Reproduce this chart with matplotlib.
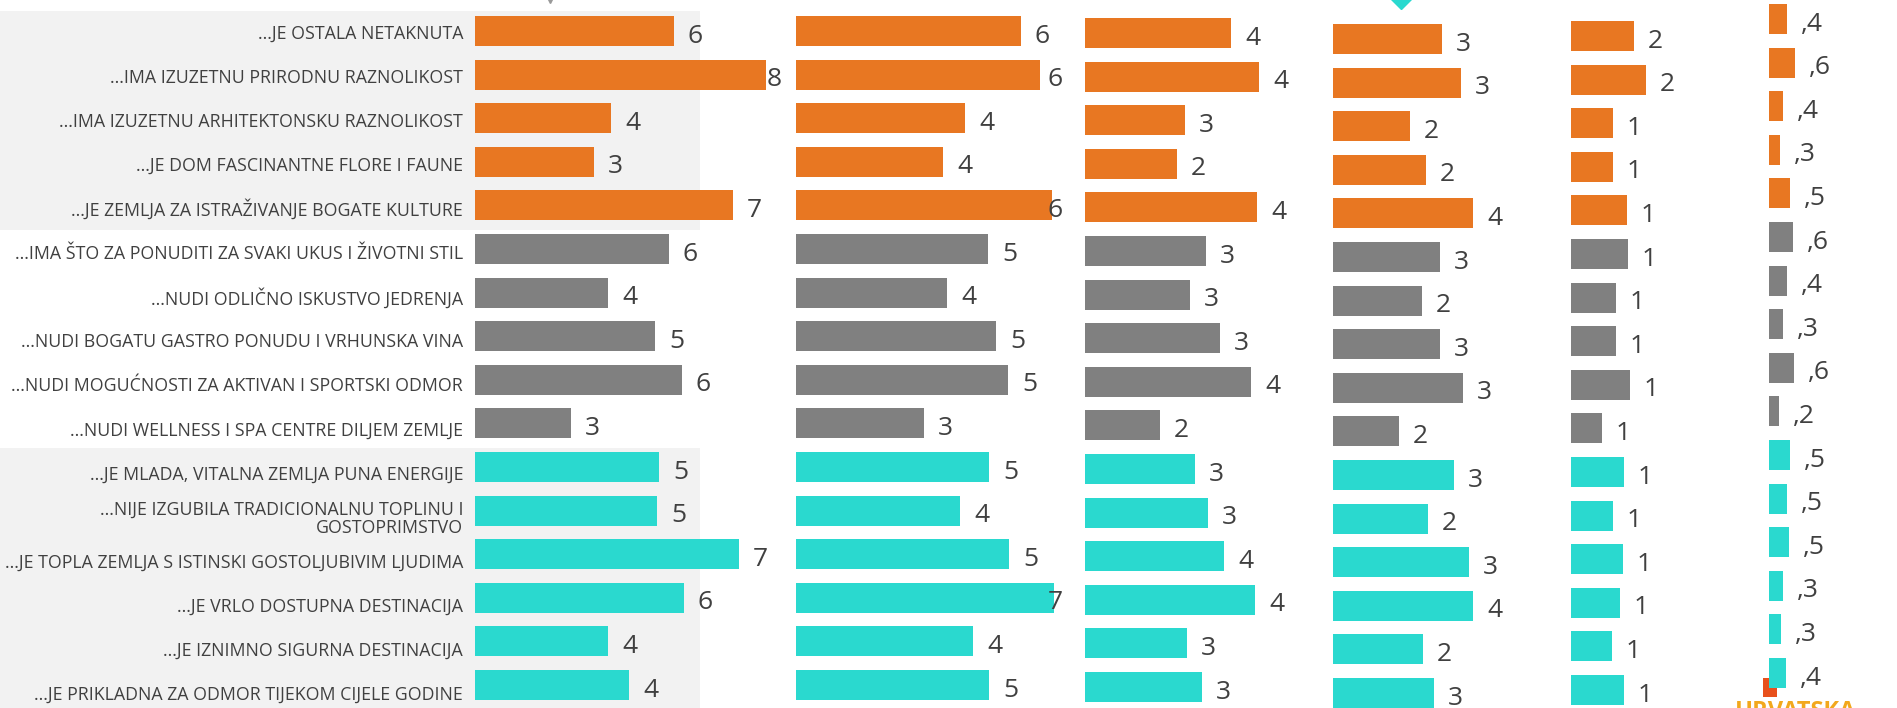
import matplotlib
matplotlib.use("Agg")
import matplotlib.pyplot as plt
from matplotlib.patches import Rectangle

# ----- Data ----- #
categories = [
    "...JE OSTALA NETAKNUTA",
    "...IMA IZUZETNU PRIRODNU RAZNOLIKOST",
    "...IMA IZUZETNU ARHITEKTONSKU RAZNOLIKOST",
    "...JE DOM FASCINANTNE FLORE I FAUNE",
    "...JE ZEMLJA ZA ISTRAŽIVANJE BOGATE KULTURE",
    "...IMA ŠTO ZA PONUDITI ZA SVAKI UKUS I ŽIVOTNI STIL",
    "...NUDI ODLIČNO ISKUSTVO JEDRENJA",
    "...NUDI BOGATU GASTRO PONUDU I VRHUNSKA VINA",
    "...NUDI MOGUĆNOSTI ZA AKTIVAN I SPORTSKI ODMOR",
    "...NUDI WELLNESS I SPA CENTRE DILJEM ZEMLJE",
    "...JE MLADA, VITALNA ZEMLJA PUNA ENERGIJE",
    "...NIJE IZGUBILA TRADICIONALNU TOPLINU I\nGOSTOPRIMSTVO",
    "...JE TOPLA ZEMLJA S ISTINSKI GOSTOLJUBIVIM LJUDIMA",
    "...JE VRLO DOSTUPNA DESTINACIJA",
    "...JE IZNIMNO SIGURNA DESTINACIJA",
    "...JE PRIKLADNA ZA ODMOR TIJEKOM CIJELE GODINE",
]
group_sizes = [5, 5, 6]
group_colors = ["#E87722", "#808080", "#2AD9CF"]

vals1 = [19.9, 29.1, 13.6, 11.9, 25.8, 19.4, 13.3, 18.0, 20.7, 9.6, 18.4, 18.2, 26.4, 20.9, 13.3, 15.4]
labs1 = ["6", "8", "4", "3", "7", "6", "4", "5", "6", "3", "5", "5", "7", "6", "4", "4"]
vals2 = [22.5, 24.4, 16.9, 14.7, 25.6, 19.2, 15.1, 20.0, 21.2, 12.8, 19.3, 16.4, 21.3, 25.8, 17.7, 19.3]
labs2 = ["6", "6", "4", "4", "6", "5", "4", "5", "5", "3", "5", "4", "5", "7", "4", "5"]
vals3 = [14.6, 17.4, 10.0, 9.2, 17.2, 12.1, 10.5, 13.5, 16.6, 7.5, 11.0, 12.3, 13.9, 17.0, 10.2, 11.7]
labs3 = ["4", "4", "3", "2", "4", "3", "3", "3", "4", "2", "3", "3", "4", "4", "3", "3"]
vals4 = [10.9, 12.8, 7.7, 9.3, 14.0, 10.7, 8.9, 10.7, 13.0, 6.6, 12.1, 9.5, 13.6, 14.0, 9.0, 10.1]
labs4 = ["3", "3", "2", "2", "4", "3", "2", "3", "3", "2", "3", "2", "3", "4", "2", "3"]
vals5 = [6.3, 7.5, 4.2, 4.2, 5.6, 5.7, 4.5, 4.5, 5.9, 3.1, 5.3, 4.2, 5.2, 4.9, 4.1, 5.3]
labs5 = ["2", "2", "1", "1", "1", "1", "1", "1", "1", "1", "1", "1", "1", "1", "1", "1"]
vals6 = [1.8, 2.6, 1.4, 1.1, 2.1, 2.4, 1.8, 1.4, 2.5, 1.0, 2.1, 1.8, 2.0, 1.4, 1.2, 1.7]
labs6 = [",4", ",6", ",4", ",3", ",5", ",6", ",4", ",3", ",6", ",2", ",5", ",5", ",5", ",3", ",3", ",4"]

# ----- Layout (pixels of the 1897x708 slide) ----- #
W, H = 1897, 708
col_left = [475, 796, 1085, 1333, 1571, 1769]
col_row1 = [31, 31, 33, 39, 36, 19]
col_width = [307, 267, 230, 220, 180, 120]
pitch = 43.6
txt = "#404040"
font = ["Open Sans", "DejaVu Sans"]

row_colors = []
for n, c in zip(group_sizes, group_colors):
    row_colors += [c] * n

fig = plt.figure(figsize=(W / 100, H / 100), dpi=100)

# background shading + leftovers of the slide
bg = fig.add_axes([0, 0, 1, 1], zorder=0)
bg.set_xlim(0, W)
bg.set_ylim(H, 0)
bg.axis("off")
bg.add_patch(Rectangle((0, 11), 700, 219, color="#F2F2F2", lw=0))
bg.add_patch(Rectangle((0, 448), 700, 260, color="#F2F2F2", lw=0))
bg.plot([1401], [-3], marker="D", ms=12, color="#2AD9CF", clip_on=False)
bg.plot([550], [0], marker="v", ms=4, color="#999999", clip_on=False)
bg.add_patch(Rectangle((1763, 678), 14, 19, color="#E8501C", lw=0))
bg.text(1796, 700, "HRVATSKA", ha="center", va="top", fontsize=17, fontweight="bold",
        color="#F2A81D", family=font)

# category labels
n = len(categories)
lab_pitch = 44.1
lab_top = 33.5 - lab_pitch / 2
lab_ax = fig.add_axes([0, 1 - (lab_top + n * lab_pitch) / H, 463 / W, n * lab_pitch / H], zorder=1)
lab_ax.set_xlim(0, 1)
lab_ax.set_ylim(n - 0.5, -0.5)
lab_ax.axis("off")
for i, c in enumerate(categories):
    lab_ax.text(1, i, c, ha="right", va="center", fontsize=12.8, color=txt,
                family=font, linespacing=1.0)

# ----- Bar columns ----- #
columns = [(vals1, labs1), (vals2, labs2), (vals3, labs3),
           (vals4, labs4), (vals5, labs5), (vals6, labs6)]
for k, (vals, labs) in enumerate(columns):
    top = col_row1[k] - pitch / 2
    bottom = top + n * pitch
    ax = fig.add_axes([col_left[k] / W, 1 - bottom / H, col_width[k] / W, (bottom - top) / H], zorder=2)
    xmax = col_width[k] / 10
    ax.set_xlim(0, xmax)
    ax.set_ylim(n - 0.5, -0.5)
    ax.axis("off")
    ax.barh(range(n), vals, height=0.69, color=row_colors)
    for i, (v, t) in enumerate(zip(vals, labs)):
        lx = min(v + 1.4, xmax - 1.55)  # labels stay inside the chart box
        ax.annotate(t, (lx, i), xytext=(0, -8.3), textcoords="offset points",
                    ha="left", va="baseline", fontsize=19, color=txt,
                    family=font, annotation_clip=False)

fig.savefig("out.png", dpi=100)
